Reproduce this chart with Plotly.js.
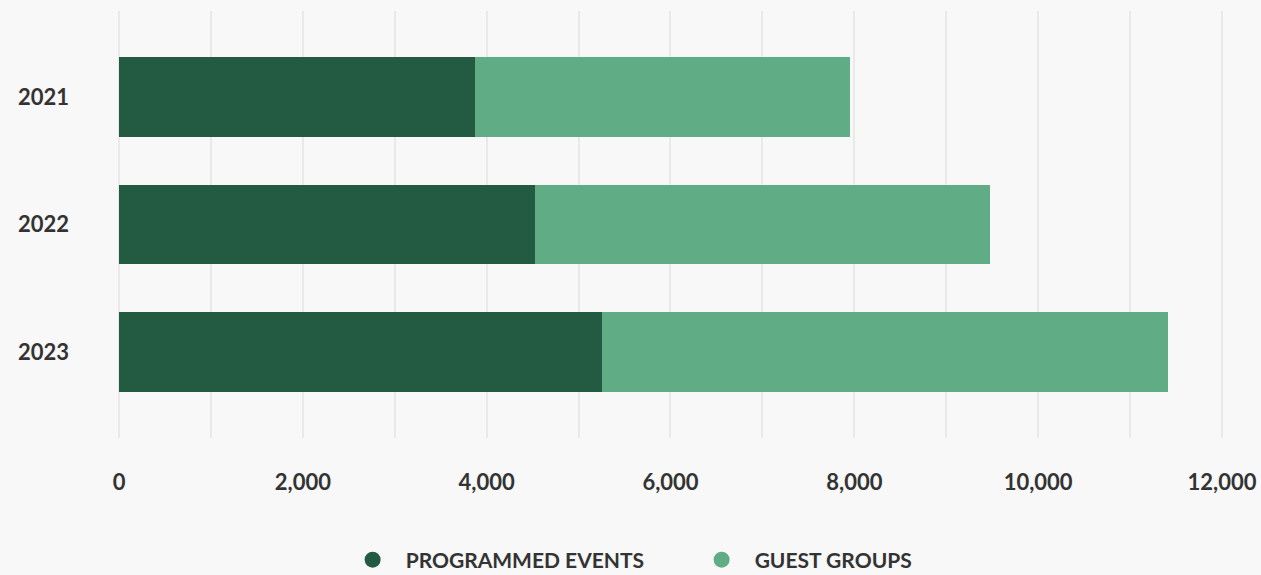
<!DOCTYPE html>
<html><head><meta charset="utf-8">
<script src="https://cdn.plot.ly/plotly-3.0.1.min.js"></script>
<style>html,body{margin:0;padding:0;background:#f7f8f7;}#chart{width:1261px;height:575px;}</style>
</head><body><div id="chart"></div>
<script>
const years = ['2021', '2022', '2023'];
const programmedEvents = [3870, 4525, 5255];
const guestGroups = [4085, 4955, 6160];
const seriesNames = ['PROGRAMMED EVENTS', 'GUEST GROUPS'];
const xTicks = [0, 2000, 4000, 6000, 8000, 10000, 12000];

const dark = '#225b41', light = '#5fac85';
const font = 'Lato, "Source Sans Pro", "Open Sans", sans-serif';

const traces = [
  {type:'bar', orientation:'h', y:years, x:programmedEvents, name:seriesNames[0],
   marker:{color:dark}, showlegend:false, hoverinfo:'x+name'},
  {type:'bar', orientation:'h', y:years, x:guestGroups, name:seriesNames[1],
   marker:{color:light}, showlegend:false, hoverinfo:'x+name'},
  {type:'scatter', mode:'markers', x:[null], y:[null], name:seriesNames[0],
   marker:{color:dark, size:18, symbol:'circle'}, showlegend:true},
  {type:'scatter', mode:'markers', x:[null], y:[null], name:seriesNames[1],
   marker:{color:light, size:18, symbol:'circle'}, showlegend:true}
];

const layout = {
  width:1261, height:575,
  paper_bgcolor:'#f7f8f7', plot_bgcolor:'#f7f8f7',
  barmode:'stack', bargap:0.373,
  margin:{l:119, r:37, t:11, b:137, autoexpand:false},
  font:{family:font, color:'#333333', size:21},
  xaxis:{range:[0,12022], tickvals:xTicks, ticktext:xTicks.map(v=>v.toLocaleString('en-US')),
         showgrid:true, gridcolor:'#e8e9e8', gridwidth:2,
         zeroline:true, zerolinecolor:'#e8e9e8', zerolinewidth:2,
         minor:{dtick:1000, tick0:0, showgrid:true, gridcolor:'#e8e9e8', gridwidth:2},
         tickfont:{family:font, size:22, color:'#333333', weight:'bold'},
         ticklabelstandoff:29, showline:false, fixedrange:true, automargin:false},
  yaxis:{type:'category', range:[2.675,-0.675], showgrid:false, zeroline:false,
         tickfont:{family:font, size:22, color:'#333333', weight:'bold'},
         ticklabelstandoff:49, fixedrange:true, automargin:false},
  legend:{orientation:'h', x:0.5155, xanchor:'center', yref:'container', y:0.026, yanchor:'middle',
          font:{family:font, size:21, color:'#333333', weight:'bold'},
          itemwidth:56, traceorder:'normal', entrywidth:278, entrywidthmode:'pixels',
          bgcolor:'rgba(0,0,0,0)', tracegroupgap:0},
  showlegend:true
};

Plotly.newPlot('chart', traces, layout, {displayModeBar:false, staticPlot:true});
</script></body></html>
